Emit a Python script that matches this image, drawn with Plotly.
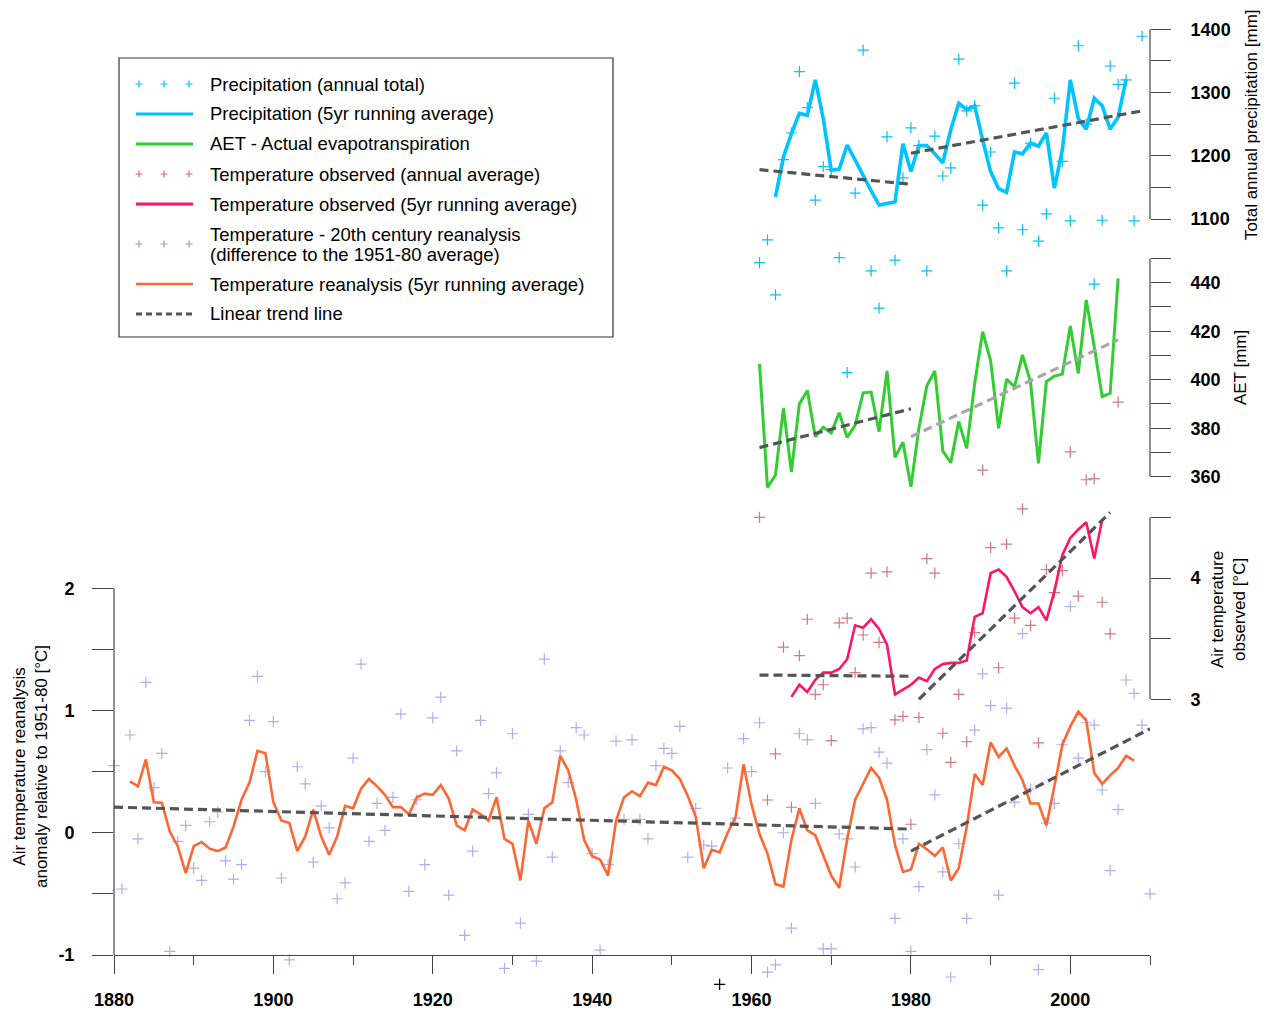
import plotly.graph_objects as go

# ---------------- data ----------------
rean_years = list(range(1880, 1956)) + list(range(1957, 2011))
rean_vals = [0.55, -0.46, 0.80, -0.05, 1.23, 0.37, 0.65, -0.97, -0.07, 0.06,
             -0.29, -0.39, 0.09, 0.17, -0.23, -0.38, -0.26, 0.92, 1.28, 0.50,
             0.91, -0.37, -1.04, 0.54, 0.40, -0.24, 0.22, 0.04, -0.54, -0.41,
             0.61, 1.38, -0.07, 0.24, 0.02, 0.29, 0.97, -0.48, 0.27, -0.26,
             0.94, 1.11, -0.51, 0.67, -0.84, -0.15, 0.92, 0.32, 0.49, -1.11,
             0.81, -0.74, 0.15, -1.05, 1.42, -0.20, 0.67, 0.41, 0.86, 0.80,
             -0.17, -0.96, -0.26, 0.75, 0.11, 0.76, 0.11, -0.05, 0.55, 0.69,
             0.65, 0.87, -0.20, 0.20, -0.10, -0.11,
             0.53, 0.12, 0.77, 0.50,
             0.90, -1.14, -1.08, 0.00, -0.78, 0.81, 0.76, 0.24, -0.95, -0.95,
             -0.01, -0.05, -0.28, 0.85, 0.86, 0.66, 0.57, -0.70, -0.05, -0.97,
             -0.44, 0.68, 0.31, -0.32, -1.18, -0.09, -0.70, 0.84, 1.30, 1.04,
             -0.51, 1.02, 0.25, 1.63, 0.36, -1.12, 0.08, 0.24, 0.72, 1.85,
             0.61, 0.90, 0.88, 0.35, -0.31, 0.19, 1.25, 1.14, 0.88, -0.50]
stray_years = [1956]
stray_vals = [-1.24]

rean_avg_years = list(range(1882, 2009))
rean_avg_vals = [0.42, 0.38, 0.60, 0.25, 0.245, 0.01, -0.11, -0.33,
                 -0.11, -0.075, -0.13, -0.15, -0.12, 0.05, 0.27, 0.41, 0.67, 0.65,
                 0.25, 0.10, 0.08, -0.15, -0.03, 0.19, -0.03, -0.18, -0.03, 0.22,
                 0.20, 0.36, 0.44, 0.38, 0.31, 0.21, 0.21, 0.15, 0.29, 0.32,
                 0.31, 0.39, 0.28, 0.06, 0.02, 0.19, 0.15, 0.10, 0.29, -0.05,
                 -0.09, -0.39, 0.10, -0.09, 0.20, 0.25, 0.63, 0.51, 0.27, -0.06,
                 -0.19, -0.22, -0.35, 0.10, 0.29, 0.34, 0.30, 0.41, 0.39, 0.54,
                 0.51, 0.44, 0.30, 0.13, -0.29, -0.14, -0.16, 0.00, 0.13, 0.56,
                 0.23, -0.01, -0.17, -0.42, -0.44, -0.06, 0.20, 0.02, -0.02, -0.18,
                 -0.35, -0.45, -0.05, 0.27, 0.40, 0.53, 0.45, 0.27, -0.10, -0.32,
                 -0.30, -0.09, -0.135, -0.19, -0.12, -0.39, -0.29, 0.05, 0.48, 0.39,
                 0.74, 0.62, 0.69, 0.55, 0.43, 0.24, 0.24, 0.06, 0.38, 0.72,
                 0.87, 0.99, 0.92, 0.49, 0.40, 0.47, 0.53, 0.63, 0.59]

rean_trend1_years = [1880, 1980]
rean_trend1_vals = [0.21, 0.03]
rean_trend2_years = [1980, 2010]
rean_trend2_vals = [-0.15, 0.85]

tobs_years = list(range(1961, 2007))
tobs_vals = [4.50, 2.17, 2.55, 3.43, 2.11, 3.36, 3.66, 3.04, 3.12, 2.66,
             3.63, 3.67, 3.22, 3.53, 4.04, 3.47, 4.05, 2.83, 2.86, 1.97,
             2.85, 4.16, 4.04, 2.72, 2.48, 3.04, 2.65, 3.55, 4.89, 4.25,
             3.26, 4.28, 3.67, 4.57, 3.61, 2.64, 4.07, 3.88, 4.06, 5.04,
             3.85, 4.81, 4.82, 3.80, 3.54, 5.45]
tobs_avg_years = list(range(1965, 2005))
tobs_avg_vals = [3.02, 3.12, 3.06, 3.16, 3.22, 3.22, 3.25, 3.33, 3.61, 3.59,
                 3.66, 3.58, 3.45, 3.04, 3.08, 3.12, 3.18, 3.15, 3.25, 3.29,
                 3.30, 3.30, 3.32, 3.68, 3.71, 4.04, 4.07, 4.01, 3.89, 3.76,
                 3.71, 3.76, 3.65, 3.89, 4.19, 4.33, 4.40, 4.46, 4.16, 4.48]
tobs_trend1_years = [1961, 1980]
tobs_trend1_vals = [3.20, 3.19]
tobs_trend2_years = [1981, 2005]
tobs_trend2_vals = [3.00, 4.54]

aet_years = list(range(1961, 2007))
aet_vals = [406.5, 355.6, 360.7, 388.2, 362.0, 390.0, 395.5, 376.5, 380.4, 378.1,
            386.4, 376.2, 381.3, 394.6, 394.9, 378.6, 403.6, 368.0, 374.2, 355.9,
            380.0, 397.5, 403.6, 370.6, 365.8, 382.7, 371.7, 398.5, 419.8, 407.8,
            380.0, 400.2, 397.1, 410.2, 399.2, 365.5, 399.2, 401.5, 402.3, 422.1,
            402.6, 432.9, 413.6, 393.0, 394.4, 441.8]
aet_trend1_years = [1961, 1980]
aet_trend1_vals = [372.0, 388.0]
aet_trend2_years = [1980, 2006]
aet_trend2_vals = [376.5, 416.5]

prec_years = list(range(1961, 2010))
prec_vals = [1031, 1067, 980, 1194, 1236, 1333, 1276, 1130, 1183, 1178,
             1039, 857, 1141, 1367, 1018, 959, 1230, 1035, 1165, 1244,
             1216, 1018, 1231, 1168, 1181, 1353, 1271, 1279, 1122, 1206,
             1086, 1018, 1315, 1083, 1220, 1065, 1108, 1291, 1191, 1097,
             1374, 1250, 997, 1098, 1342, 1313, 1320, 1097, 1389]
prec_avg_years = list(range(1963, 2008))
prec_avg_vals = [1135, 1198, 1235, 1267, 1264, 1320, 1259, 1177, 1179, 1217,
                 1193, 1168, 1145, 1122, 1125, 1127, 1219, 1175, 1216, 1216,
                 1203, 1189, 1241, 1283, 1273, 1279, 1225, 1175, 1148, 1142,
                 1206, 1203, 1220, 1215, 1236, 1149, 1209, 1320, 1259, 1242,
                 1291, 1279, 1242, 1261, 1321]
prec_trend1_years = [1961, 1980]
prec_trend1_vals = [1178, 1155]
prec_trend2_years = [1980, 2009]
prec_trend2_vals = [1204, 1271]

x_major_ticks = [1880, 1900, 1920, 1940, 1960, 1980, 2000]
x_minor_ticks = [1890, 1910, 1930, 1950, 1970, 1990, 2010]
y_rean_ticks = [-1, -0.5, 0, 0.5, 1, 1.5, 2]
y_rean_labels = ['-1', '', '0', '', '1', '', '2']
y_prec_ticks = [1100, 1150, 1200, 1250, 1300, 1350, 1400]
y_prec_labels = ['1100', '', '1200', '', '1300', '', '1400']
y_aet_ticks = [360, 370, 380, 390, 400, 410, 420, 430, 440, 450]
y_aet_labels = ['360', '', '380', '', '400', '', '420', '', '440', '']
y_tobs_ticks = [3, 3.5, 4, 4.5]
y_tobs_labels = ['3', '', '4', '']

legend_labels = [
    "Precipitation (annual total)",
    "Precipitation (5yr running average)",
    "AET - Actual evapotranspiration",
    "Temperature observed (annual average)",
    "Temperature observed (5yr running average)",
    "Temperature - 20th century reanalysis",
    "(difference to the 1951-80 average)",
    "Temperature reanalysis (5yr running average)",
    "Linear trend line",
]

# ---------------- styling ----------------
FONT = "Liberation Sans, Arial, Helvetica, sans-serif"
C_PREC = '#00c4ff'
C_AET = '#33cc33'
C_TOBS_LINE = '#ff1466'
C_TOBS_PT = 'rgba(200,60,60,0.7)'
C_REAN_PT = 'rgba(120,120,225,0.6)'
C_REAN_LINE = '#ff6633'
C_TREND = '#555555'
C_TREND_LIGHT = '#a8a8a8'
C_AXIS = '#444444'

W, H = 1266, 1009
ML, MR, MT, MB = 114, 116, 0, 15
PW, PH = W - ML - MR, H - MT - MB
PLOT_BOTTOM = H - MB          # 994 px
AXIS_Y = 955                   # pixel row of the x axis line


def fx(px):
    return (px - ML) / PW


def fy(py):
    return (PLOT_BOTTOM - py) / PH


def yrange(v_ref, py_ref, px_per_unit):
    """axis range so that value v_ref sits at pixel row py_ref"""
    return [v_ref - (PLOT_BOTTOM - py_ref) / px_per_unit,
            v_ref + (py_ref - MT) / px_per_unit]


def pts(x, y, color, yaxis, size=8):
    return go.Scatter(x=x, y=y, mode='markers', yaxis=yaxis, cliponaxis=False,
                      marker=dict(symbol='cross-thin', size=size,
                                  line=dict(color=color, width=1.2)),
                      showlegend=False, hoverinfo='x+y')


def line(x, y, color, yaxis, width=2.8, dash='solid'):
    return go.Scatter(x=x, y=y, mode='lines', yaxis=yaxis,
                      line=dict(color=color, width=width, dash=dash),
                      showlegend=False, hoverinfo='x+y')


TREND_DASH = '9px,5px'

fig = go.Figure()
# reanalysis (left axis)
fig.add_trace(pts(rean_years, rean_vals, C_REAN_PT, 'y'))
fig.add_trace(pts(stray_years, stray_vals, '#000000', 'y'))
fig.add_trace(line(rean_avg_years, rean_avg_vals, C_REAN_LINE, 'y', 2.6))
fig.add_trace(line(rean_trend1_years, rean_trend1_vals, C_TREND, 'y', 3.2, TREND_DASH))
fig.add_trace(line(rean_trend2_years, rean_trend2_vals, C_TREND, 'y', 3.2, TREND_DASH))
# observed temperature
fig.add_trace(pts(tobs_years, tobs_vals, C_TOBS_PT, 'y4'))
fig.add_trace(line(tobs_avg_years, tobs_avg_vals, C_TOBS_LINE, 'y4', 2.6))
fig.add_trace(line(tobs_trend1_years, tobs_trend1_vals, C_TREND, 'y4', 3.2, TREND_DASH))
fig.add_trace(line(tobs_trend2_years, tobs_trend2_vals, C_TREND, 'y4', 3.2, TREND_DASH))
# AET
fig.add_trace(line(aet_years, aet_vals, C_AET, 'y3', 3))
fig.add_trace(line(aet_trend1_years, aet_trend1_vals, C_TREND, 'y3', 3.2, TREND_DASH))
fig.add_trace(line(aet_trend2_years, aet_trend2_vals, C_TREND_LIGHT, 'y3', 3.2, TREND_DASH))
# precipitation
fig.add_trace(pts(prec_years, prec_vals, C_PREC, 'y2'))
fig.add_trace(line(prec_avg_years, prec_avg_vals, C_PREC, 'y2', 3.6))
fig.add_trace(line(prec_trend1_years, prec_trend1_vals, C_TREND, 'y2', 3.2, TREND_DASH))
fig.add_trace(line(prec_trend2_years, prec_trend2_vals, C_TREND, 'y2', 3.2, TREND_DASH))

tickfont = dict(family=FONT, size=18, color='black', weight='bold')

common_y = dict(showgrid=False, zeroline=False, showline=False, ticks='outside',
                tickwidth=1.2, tickcolor=C_AXIS, tickfont=tickfont)

fig.update_layout(
    width=W, height=H,
    margin=dict(l=ML, r=MR, t=MT, b=MB, autoexpand=False),
    paper_bgcolor='white', plot_bgcolor='white',
    showlegend=False,
    font=dict(family=FONT, color='black'),
    xaxis=dict(range=[1880, 2010], showgrid=False, zeroline=False,
               anchor='free', position=fy(AXIS_Y),
               showline=True, linecolor=C_AXIS, linewidth=1.2,
               ticks='outside', tickvals=x_major_ticks, ticklen=18,
               tickwidth=1.2, tickcolor=C_AXIS, tickfont=tickfont,
               ticklabelstandoff=10,
               minor=dict(tickvals=x_minor_ticks, ticks='outside', ticklen=9,
                          tickwidth=1.2, tickcolor=C_AXIS)),
    yaxis=dict(range=yrange(-1, 955, 122.23), tickvals=y_rean_ticks,
               ticktext=y_rean_labels, ticklen=21, ticklabelstandoff=14, **common_y),
    yaxis2=dict(range=yrange(1100, 219, 0.6323), overlaying='y',
                side='right', anchor='x', tickvals=y_prec_ticks,
                ticktext=y_prec_labels, ticklen=20, ticklabelstandoff=16, **common_y),
    yaxis3=dict(range=yrange(360, 476.7, 2.425), overlaying='y',
                side='right', anchor='x', tickvals=y_aet_ticks,
                ticktext=y_aet_labels, ticklen=20, ticklabelstandoff=16, **common_y),
    yaxis4=dict(range=yrange(3, 699.3, 121.3), overlaying='y',
                side='right', anchor='x', tickvals=y_tobs_ticks,
                ticktext=y_tobs_labels, ticklen=20, ticklabelstandoff=16, **common_y),
)

# axis spines restricted to the labelled ranges
shapes = [
    dict(type='line', xref='paper', x0=0, x1=0, yref='y',
         y0=y_rean_ticks[0], y1=y_rean_ticks[-1], line=dict(color=C_AXIS, width=1.2)),
    dict(type='line', xref='paper', x0=1, x1=1, yref='y2',
         y0=y_prec_ticks[0], y1=y_prec_ticks[-1], line=dict(color=C_AXIS, width=1.2)),
    dict(type='line', xref='paper', x0=1, x1=1, yref='y3',
         y0=y_aet_ticks[0], y1=y_aet_ticks[-1], line=dict(color=C_AXIS, width=1.2)),
    dict(type='line', xref='paper', x0=1, x1=1, yref='y4',
         y0=y_tobs_ticks[0], y1=y_tobs_ticks[-1], line=dict(color=C_AXIS, width=1.2)),
]

# legend box
shapes.append(dict(type='rect', xref='paper', yref='paper',
                   x0=fx(119), x1=fx(613), y0=fy(58), y1=fy(337),
                   line=dict(color='#333333', width=1.2), fillcolor='white',
                   layer='below'))


def plus_path(cx, cy, h=3.5):
    return (f"M{fx(cx - h)},{fy(cy)} L{fx(cx + h)},{fy(cy)} "
            f"M{fx(cx)},{fy(cy - h)} L{fx(cx)},{fy(cy + h)}")


row_y = [84, 114, 144, 174, 204, 244, 284, 314]
sym = [('plus', C_PREC), ('line', C_PREC, 3.2), ('line', C_AET, 3.2),
       ('plus', 'rgba(220,80,80,0.85)'), ('line', C_TOBS_LINE, 3),
       ('plus', 'rgba(120,120,225,0.75)'), ('line', C_REAN_LINE, 2.4),
       ('dash', C_TREND, 3)]
for yy, s in zip(row_y, sym):
    if s[0] == 'plus':
        for cx in (139, 164, 189):
            shapes.append(dict(type='path', xref='paper', yref='paper',
                               path=plus_path(cx, yy),
                               line=dict(color=s[1], width=1.2)))
    else:
        shapes.append(dict(type='line', xref='paper', yref='paper',
                           x0=fx(136), x1=fx(193), y0=fy(yy), y1=fy(yy),
                           line=dict(color=s[1], width=s[2],
                                     dash='6px,4px' if s[0] == 'dash' else 'solid')))
fig.update_layout(shapes=shapes)

annotations = []
text_y = [84, 114, 144, 174, 204, 234, 254, 284, 314]
for t, yy in zip(legend_labels, text_y):
    annotations.append(dict(xref='paper', yref='paper', x=fx(208), y=fy(yy),
                            xanchor='left', yanchor='middle', text=t,
                            showarrow=False,
                            font=dict(family=FONT, size=18.5, color='black')))

title_font = dict(family=FONT, size=17, color='black')
annotations += [
    dict(xref='paper', yref='paper', x=fx(30), y=fy(767), textangle=-90,
         text="Air temperature reanalysis<br>anomaly relative to 1951-80 [°C]",
         showarrow=False, font=title_font, xanchor='center', yanchor='middle'),
    dict(xref='paper', yref='paper', x=fx(1252), y=fy(125), textangle=-90,
         text="Total annual precipitation [mm]",
         showarrow=False, font=title_font, xanchor='center', yanchor='middle'),
    dict(xref='paper', yref='paper', x=fx(1240), y=fy(368), textangle=-90,
         text="AET [mm]",
         showarrow=False, font=title_font, xanchor='center', yanchor='middle'),
    dict(xref='paper', yref='paper', x=fx(1228), y=fy(610), textangle=-90,
         text="Air temperature<br>observed [°C]",
         showarrow=False, font=title_font, xanchor='center', yanchor='middle'),
]
fig.update_layout(annotations=annotations)

fig.write_html("out.html")
